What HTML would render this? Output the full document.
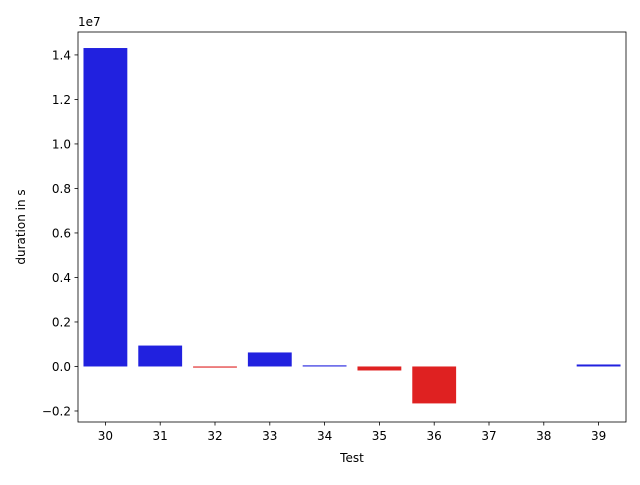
<!DOCTYPE html>
<html><head><meta charset="utf-8"><style>body{margin:0;background:#fff}svg{font-family:"DejaVu Sans","Liberation Sans",sans-serif}</style></head>
<body>
<svg id="chart" width="640" height="480"></svg>
<script>
const categories = ["30","31","32","33","34","35","36","37","38","39"];
const values = [14.31e6, 0.94e6, -0.05e6, 0.63e6, 0.05e6, -0.18e6, -1.66e6, 0, 0, 0.09e6];
const yTicks = [-0.2e7, 0, 0.2e7, 0.4e7, 0.6e7, 0.8e7, 1.0e7, 1.2e7, 1.4e7];
const yTickLabels = ["\u22120.2","0.0","0.2","0.4","0.6","0.8","1.0","1.2","1.4"];
const NS = "http://www.w3.org/2000/svg";
const svg = document.getElementById("chart");
const L=78, R=626, T=32, B=422, yMin=-0.2495e7, yMax=1.503e7;
const y = v => B - (v - yMin) / (yMax - yMin) * (B - T);
const band = (R - L) / categories.length;
const x = i => L + band * i;
function mk(tag, attrs, parent){const e=document.createElementNS(NS,tag);for(const k in attrs)e.setAttribute(k,attrs[k]);(parent||svg).appendChild(e);return e;}
values.forEach((v,i)=>{
  const y0=y(0), y1=y(v);
  const r=mk("rect",{x:x(i)+band*0.1,y:Math.min(y0,y1),width:band*0.8,height:Math.abs(y1-y0),fill:v<0?"#df2121":"#2121df"});
  
  
  mk("line",{x1:x(i)+band/2,x2:x(i)+band/2,y1:B,y2:B+3.5,stroke:"#000","stroke-width":0.8});
  const lb=mk("text",{x:x(i)+band/2,y:B+18,"text-anchor":"middle","font-size":12});
  lb.textContent=categories[i];
  
  
});
yTicks.forEach((v,i)=>{
  mk("line",{x1:L-3.5,x2:L,y1:y(v),y2:y(v),stroke:"#000","stroke-width":0.8});
  const lb=mk("text",{x:L-7,y:y(v)+4.5,"text-anchor":"end","font-size":12});
  lb.textContent=yTickLabels[i];
  
  
});
const frame=mk("rect",{x:L,y:T,width:R-L,height:B-T,fill:"none",stroke:"#000","stroke-width":0.8});


</script>
<svg style="position:absolute;left:0;top:0" width="640" height="480">
<text x="78" y="26" font-size="12">1e7</text>
<text x="352" y="462" font-size="12" text-anchor="middle">Test</text>
<text transform="translate(25,227) rotate(-90)" font-size="12" text-anchor="middle">duration in s</text>
</svg>
</body></html>
